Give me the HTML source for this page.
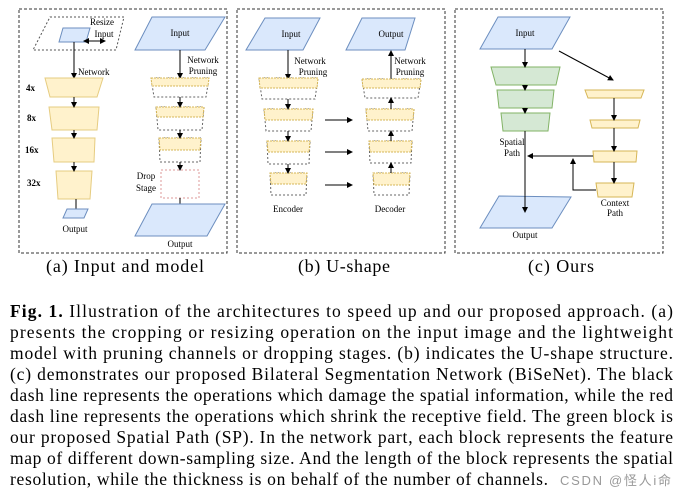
<!DOCTYPE html>
<html><head><meta charset="utf-8"><style>
html,body{margin:0;padding:0;background:#fff;}
svg{display:block;}
</style></head><body>
<svg width="687" height="499" viewBox="0 0 687 499" xmlns="http://www.w3.org/2000/svg" font-family="'Liberation Serif', serif">
<defs>
<marker id="ar" markerWidth="6" markerHeight="6" refX="5" refY="3" orient="auto" markerUnits="userSpaceOnUse"><path d="M0,0 L6,3 L0,6 z" fill="#000"/></marker>
<marker id="ar2" markerWidth="6" markerHeight="6" refX="1" refY="3" orient="auto-start-reverse" markerUnits="userSpaceOnUse"><path d="M0,0 L6,3 L0,6 z" fill="#000"/></marker>
</defs>
<g fill="none" stroke="#333" stroke-width="1" stroke-dasharray="3,2">
<rect x="19" y="9" width="208" height="244"/>
<rect x="237" y="9" width="208" height="244"/>
<rect x="455" y="9" width="208" height="244"/>
</g>
<!-- Panel a -->
<polygon points="50,17 124,17 116,50 33,50" fill="none" stroke="#555" stroke-dasharray="2,2"/>
<polygon points="63,28 90,28 86,42 59,42" fill="#dae8fc" stroke="#6c8ebf"/>
<text x="102" y="25" font-size="9" text-anchor="middle">Resize</text>
<text x="104" y="37" font-size="9" text-anchor="middle">Input</text>
<line x1="88" y1="41" x2="105" y2="41" stroke="#000" marker-end="url(#ar)" marker-start="url(#ar2)"/>
<line x1="74" y1="42" x2="74" y2="78" stroke="#000" marker-end="url(#ar)"/>
<text x="78" y="75" font-size="9">Network</text>
<g fill="#fff2cc" stroke="#e6cc80">
<polygon points="45,78 103,78 97,97 50,97"/>
<polygon points="49,107 99,107 97,130 52,130"/>
<polygon points="52,138 95,138 94,162 54,162"/>
<polygon points="56,171 92,171 90,199 58,199"/>
</g>
<g stroke="#000" marker-end="url(#ar)">
<line x1="74" y1="97" x2="74" y2="107"/><line x1="74" y1="130" x2="74" y2="138"/><line x1="74" y1="162" x2="74" y2="171"/><line x1="76" y1="199" x2="76" y2="215"/>
</g>
<g font-size="9" font-weight="bold"><text x="26" y="91">4x</text><text x="27" y="121">8x</text><text x="25" y="153">16x</text><text x="27" y="186">32x</text></g>
<polygon points="67,209 88,209 84,218 63,218" fill="#dae8fc" stroke="#6c8ebf"/>
<text x="75" y="232" font-size="9" text-anchor="middle">Output</text>
<polygon points="152,17 225,17 205,50 135,50" fill="#dae8fc" stroke="#6c8ebf"/>
<text x="180" y="36" font-size="9" text-anchor="middle">Input</text>
<line x1="180" y1="50" x2="180" y2="78" stroke="#000" marker-end="url(#ar)"/>
<text x="203" y="63" font-size="9" text-anchor="middle">Network</text>
<text x="203" y="74" font-size="9" text-anchor="middle">Pruning</text>
<g fill="none" stroke="#666" stroke-dasharray="2,2">
<polygon points="151,78 209,78 206,97 154,97"/>
<polygon points="156,107 204,107 202,130 158,130"/>
<polygon points="159,138 201,138 200,162 160,162"/>
</g>
<g fill="#fff2cc" stroke="#d6b656" stroke-dasharray="2,1">
<polygon points="151,78 209,78 208,86 152,86"/>
<polygon points="156,107 204,107 203,117 157,117"/>
<polygon points="159,138 201,138 200,150 160,150"/>
</g>
<rect x="161" y="170" width="38" height="28" fill="none" stroke="#d99" stroke-dasharray="2,2"/>
<g stroke="#000" marker-end="url(#ar)"><line x1="180" y1="97" x2="180" y2="107"/><line x1="180" y1="130" x2="180" y2="138"/><line x1="180" y1="162" x2="180" y2="170"/><line x1="180" y1="198" x2="180" y2="220"/></g>
<text x="146" y="179" font-size="9" text-anchor="middle">Drop</text>
<text x="146" y="191" font-size="9" text-anchor="middle">Stage</text>
<polygon points="152,204 225,204 207,236 135,236" fill="#dae8fc" stroke="#6c8ebf"/>
<text x="180" y="247" font-size="9" text-anchor="middle">Output</text>
<!-- Panel b -->
<polygon points="265,18 320,18 303,50 246,50" fill="#dae8fc" stroke="#6c8ebf"/>
<text x="291" y="37" font-size="9" text-anchor="middle">Input</text>
<polygon points="362,18 415,18 405,50 346,50" fill="#dae8fc" stroke="#6c8ebf"/>
<text x="391" y="37" font-size="9" text-anchor="middle">Output</text>
<line x1="288" y1="50" x2="288" y2="79" stroke="#000" marker-end="url(#ar)"/>
<text x="310" y="64" font-size="9" text-anchor="middle">Network</text>
<text x="313" y="75" font-size="9" text-anchor="middle">Pruning</text>
<line x1="391" y1="79" x2="391" y2="51" stroke="#000" marker-end="url(#ar)"/>
<text x="410" y="64" font-size="9" text-anchor="middle">Network</text>
<text x="410" y="75" font-size="9" text-anchor="middle">Pruning</text>
<g fill="none" stroke="#666" stroke-dasharray="2,2">
<polygon points="259,78 318,78 315,99 262,99"/>
<polygon points="264,109 313,109 311,131 266,131"/>
<polygon points="267,141 310,141 309,164 268,164"/>
<polygon points="270,173 307,173 306,195 271,195"/>
<polygon points="362,79 421,79 418,98 365,98"/>
<polygon points="366,109 414,109 412,131 368,131"/>
<polygon points="369,141 412,141 411,163 370,163"/>
<polygon points="373,173 410,173 409,195 374,195"/>
</g>
<g fill="#fff2cc" stroke="#d6b656" stroke-dasharray="2,1">
<polygon points="259,78 318,78 317,88 260,88"/>
<polygon points="264,109 313,109 312,120 265,120"/>
<polygon points="267,141 310,141 309,152 268,152"/>
<polygon points="270,173 307,173 306,184 271,184"/>
<polygon points="362,79 421,79 420,88 363,88"/>
<polygon points="366,109 414,109 413,120 367,120"/>
<polygon points="369,141 412,141 411,152 370,152"/>
<polygon points="373,173 410,173 409,185 374,185"/>
</g>
<g stroke="#000" marker-end="url(#ar)">
<line x1="288" y1="99" x2="288" y2="109"/><line x1="288" y1="131" x2="288" y2="141"/><line x1="288" y1="164" x2="288" y2="173"/>
<line x1="391" y1="109" x2="391" y2="98"/><line x1="391" y1="141" x2="391" y2="131"/><line x1="391" y1="173" x2="391" y2="163"/>
<line x1="325" y1="120" x2="352" y2="120"/><line x1="325" y1="152" x2="352" y2="152"/><line x1="325" y1="185" x2="352" y2="185"/>
</g>
<text x="288" y="212" font-size="9" text-anchor="middle">Encoder</text>
<text x="390" y="212" font-size="9" text-anchor="middle">Decoder</text>
<!-- Panel c -->
<polygon points="498,17 570,17 552,49 480,49" fill="#dae8fc" stroke="#6c8ebf"/>
<text x="525" y="36" font-size="9" text-anchor="middle">Input</text>
<g fill="#d5e8d4" stroke="#82b366">
<polygon points="491,67 560,67 556,85 496,85"/>
<polygon points="497,90 554,90 552,108 499,108"/>
<polygon points="501,113 550,113 548,131 503,131"/>
</g>
<g fill="#fff2cc" stroke="#d6b656">
<polygon points="585,90 644,90 641,98 588,98"/>
<polygon points="590,120 640,120 638,128 592,128"/>
<polygon points="593,151 637,151 636,162 594,162"/>
<polygon points="596,183 634,183 632,197 598,197"/>
</g>
<g stroke="#000" marker-end="url(#ar)">
<line x1="525" y1="49" x2="525" y2="67"/><line x1="525" y1="85" x2="525" y2="90"/><line x1="525" y1="108" x2="525" y2="113"/>
<line x1="559" y1="51" x2="613" y2="80"/>
<line x1="614" y1="98" x2="614" y2="120"/><line x1="614" y1="128" x2="614" y2="151"/><line x1="614" y1="162" x2="614" y2="183"/>
<line x1="525" y1="131" x2="525" y2="212"/>
<line x1="593" y1="156" x2="528" y2="156"/>
<polyline points="596,190 573,190 573,159" fill="none"/>
</g>
<text x="512" y="145" font-size="9" text-anchor="middle">Spatial</text>
<text x="512" y="156" font-size="9" text-anchor="middle">Path</text>
<text x="615" y="206" font-size="9" text-anchor="middle">Context</text>
<text x="615" y="216" font-size="9" text-anchor="middle">Path</text>
<polygon points="499,196 571,197 552,228 480,228" fill="#dae8fc" stroke="#6c8ebf"/>
<line x1="525" y1="196" x2="525" y2="212" stroke="#000" marker-end="url(#ar)"/>
<text x="525" y="238" font-size="9" text-anchor="middle">Output</text>
<!-- captions -->
<g font-size="18"><text x="46" y="272" textLength="158">(a) Input and model</text><text x="298" y="272" textLength="92">(b) U-shape</text><text x="528" y="272" textLength="66">(c) Ours</text></g>
<g font-size="17.5" lengthAdjust="spacing">
<text x="10" y="317" textLength="663"><tspan font-weight="bold">Fig. 1.</tspan> Illustration of the architectures to speed up and our proposed approach. (a)</text>
<text x="10" y="338" textLength="663">presents the cropping or resizing operation on the input image and the lightweight</text>
<text x="10" y="359" textLength="663">model with pruning channels or dropping stages. (b) indicates the U-shape structure.</text>
<text x="10" y="380" textLength="663">(c) demonstrates our proposed Bilateral Segmentation Network (BiSeNet). The black</text>
<text x="10" y="401" textLength="663">dash line represents the operations which damage the spatial information, while the red</text>
<text x="10" y="422" textLength="663">dash line represents the operations which shrink the receptive field. The green block is</text>
<text x="10" y="443" textLength="663">our proposed Spatial Path (SP). In the network part, each block represents the feature</text>
<text x="10" y="464" textLength="663">map of different down-sampling size. And the length of the block represents the spatial</text>
<text x="10" y="485" textLength="538">resolution, while the thickness is on behalf of the number of channels.</text>
</g>
<text x="560" y="485" font-size="13" fill="#999" font-family="'Liberation Sans','Noto Sans CJK SC',sans-serif" textLength="111">CSDN @怪人i命</text>
</svg>
</body></html>
